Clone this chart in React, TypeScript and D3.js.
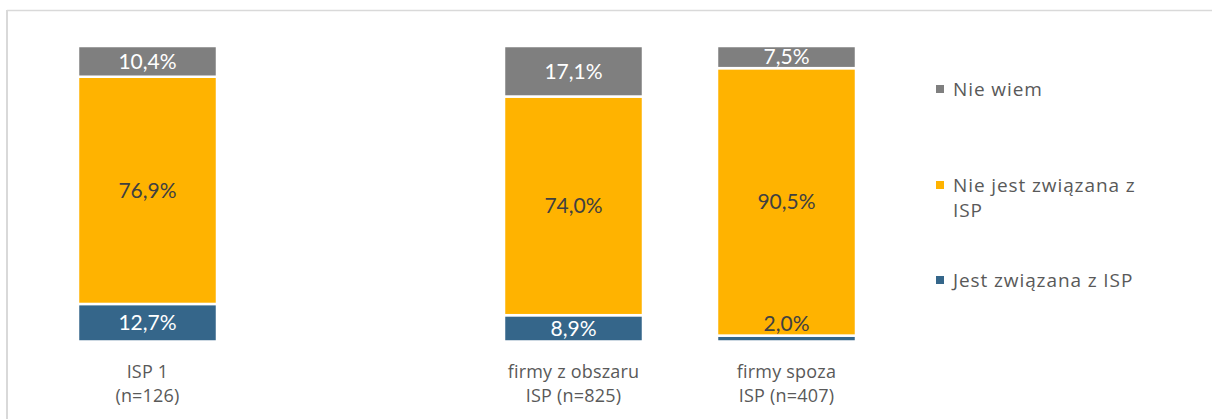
import React from "react";
import * as d3 from "d3";

const categories = ["ISP 1", "", "firmy z obszaru ISP", "firmy spoza ISP"];
const categoryLines: string[][] = [["ISP 1", "(n=126)"], [], ["firmy z obszaru", "ISP (n=825)"], ["firmy spoza", "ISP (n=407)"]];
const jest: (number | null)[] = [12.7, null, 8.9, 2.0];
const nieJest: (number | null)[] = [76.9, null, 74.0, 90.5];
const nieWiem: (number | null)[] = [10.4, null, 17.1, 7.5];

const seriesNames = ["Jest związana z ISP", "Nie jest związana z ISP", "Nie wiem"];
const seriesColors = ["#35668A", "#FFB300", "#7F7F7F"];
const labelColors = ["#FFFFFF", "#404040", "#FFFFFF"];

const W = 1212;
const H = 419;
const FONT = "Lato, 'Open Sans', sans-serif";
const FONT2 = "'Open Sans', Lato, sans-serif";

export default function App() {
  const x = d3.scaleBand<string>().domain(categories).range([41, 893]).paddingInner(0.3474).paddingOuter(0.1737);
  const y = d3.scaleLinear().domain([0, 100]).range([341.5, 46]);
  const seriesValues = [jest, nieJest, nieWiem];

  const rows = categories.map((c, i) => ({ key: c, jest: jest[i] ?? 0, nieJest: nieJest[i] ?? 0, nieWiem: nieWiem[i] ?? 0 }));
  const stack = d3.stack<any>().keys(["jest", "nieJest", "nieWiem"]);
  const stacked = stack(rows);

  const fmt = (v: number) => v.toFixed(1).replace(".", ",") + "%";

  const legendItems = [
    { name: ["Nie wiem"], color: seriesColors[2], y: 89 },
    { name: ["Nie jest związana z", "ISP"], color: seriesColors[1], y: 185 },
    { name: ["Jest związana z ISP"], color: seriesColors[0], y: 280 },
  ];

  return (
    <svg width={W} height={H} style={{ display: "block", position: "absolute", left: 0, top: 0 }} fontFamily={FONT}>
      <rect x={0} y={0} width={W} height={H} fill="#fff" />
      <line x1={7} y1={10.5} x2={W} y2={10.5} stroke="#D9D9D9" strokeWidth={1.5} />
      <line x1={7} y1={10} x2={7} y2={H} stroke="#D9D9D9" strokeWidth={2} />
      {stacked.map((s, si) => (
        <g key={si}>
          {s.map((d, i) => {
            const v = seriesValues[si][i];
            if (v == null) return null;
            const x0 = x(categories[i])!;
            const top = y(d[1]);
            const bot = y(d[0]);
            return (
              <rect key={i} x={x0} y={top} width={x.bandwidth()} height={bot - top} fill={seriesColors[si]} stroke="#fff" strokeWidth={2.5} />
            );
          })}
        </g>
      ))}
      {stacked.map((s, si) => (
        <g key={"l" + si}>
          {s.map((d, i) => {
            const v = seriesValues[si][i];
            if (v == null) return null;
            const cx = x(categories[i])! + x.bandwidth() / 2;
            const top = y(d[1]);
            const bot = y(d[0]);
            const small = bot - top < 12;
            const cy = small ? top - 12 : (top + bot) / 2;
            return (
              <text key={i} x={cx} y={cy} dy="0.35em" textAnchor="middle" fontSize={21} fill={small ? "#404040" : labelColors[si]}>
                {fmt(v)}
              </text>
            );
          })}
        </g>
      ))}
      {categoryLines.map((lines, i) => (
        <text key={"c" + i} textAnchor="middle" fontSize={18} letterSpacing={0.2} fill="#595959" fontFamily={FONT2}>
          {lines.map((t, j) => (
            <tspan key={j} x={x(categories[i])! + x.bandwidth() / 2} y={372 + j * 24} dy="0.35em">{t}</tspan>
          ))}
        </text>
      ))}
      {legendItems.map((it, i) => (
        <g key={"lg" + i}>
          <rect x={936} y={it.y - 4} width={8} height={8} fill={it.color} />
          <text fontSize={19} letterSpacing={0.9} fill="#595959" fontFamily={FONT2}>
            {it.name.map((t, j) => (
              <tspan key={j} x={953} y={it.y + j * 25} dy="0.35em">{t}</tspan>
            ))}
          </text>
        </g>
      ))}
    </svg>
  );
}
